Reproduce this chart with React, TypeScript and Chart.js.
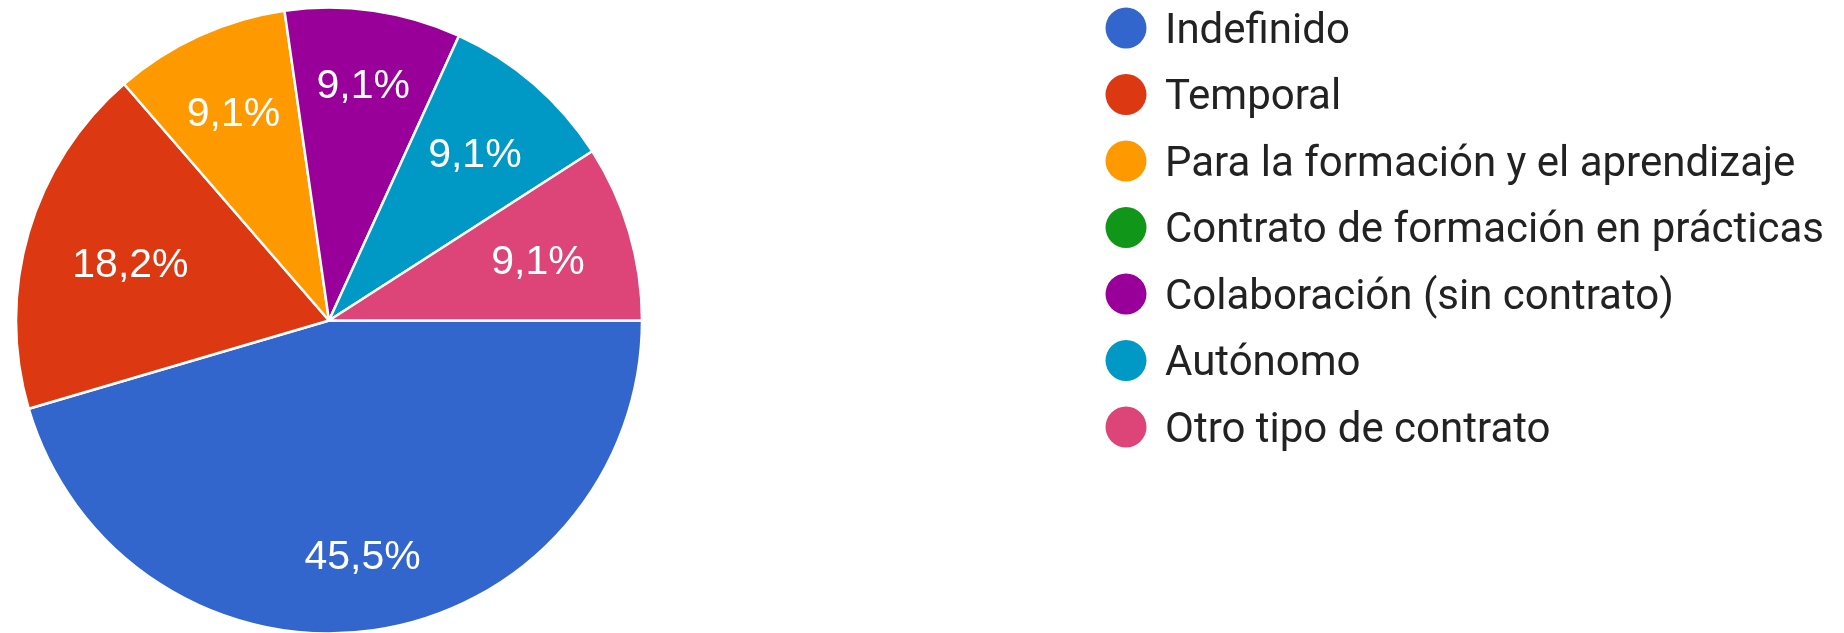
import React, { useEffect, useRef } from "react";
import { Chart, registerables } from "chart.js";

Chart.register(...registerables);

const categories = [
  "Indefinido",
  "Temporal",
  "Para la formación y el aprendizaje",
  "Contrato de formación en prácticas",
  "Colaboración (sin contrato)",
  "Autónomo",
  "Otro tipo de contrato",
];
const counts = [5, 2, 1, 0, 1, 1, 1];
const colors = ["#3366cc", "#dc3912", "#ff9900", "#109618", "#990099", "#0099c6", "#dd4477"];

const W = 1844;
const H = 633;

const sliceLabelPlugin = {
  id: "sliceLabels",
  afterDatasetsDraw(chart: any) {
    const ctx = chart.ctx;
    const meta = chart.getDatasetMeta(0);
    const data = chart.data.datasets[0].data as number[];
    const total = data.reduce((a, b) => a + b, 0);
    const fs = 41;
    ctx.save();
    ctx.font = `${fs}px "Liberation Sans", Arial, sans-serif`;
    ctx.fillStyle = "#ffffff";
    ctx.textAlign = "center";
    ctx.textBaseline = "alphabetic";
    meta.data.forEach((arc: any, i: number) => {
      const v = data[i];
      if (!v) return;
      const { x, y, startAngle, endAngle, outerRadius } = arc.getProps(
        ["x", "y", "startAngle", "endAngle", "outerRadius"],
        true
      );
      const label = ((v / total) * 100).toFixed(1).replace(".", ",") + "%";
      const mid = (startAngle + endAngle) / 2;
      const ux = Math.cos(mid);
      const uy = Math.sin(mid);
      const w = ctx.measureText(label).width;
      const h = fs * 0.85;
      const cx = Math.sign(ux) * (w / 2);
      const cy = Math.sign(uy) * (h / 2);
      const Rp = outerRadius * 0.855;
      const uc = ux * cx + uy * cy;
      const d = -uc + Math.sqrt(Math.max(uc * uc - (cx * cx + cy * cy) + Rp * Rp, 0));
      const px = x + d * ux;
      const py = y + d * uy;
      ctx.fillText(label, px, py + (fs * 0.716) / 2);
    });
    ctx.restore();
  },
};

const legendPlugin = {
  id: "customLegend",
  afterDraw(chart: any) {
    const ctx = chart.ctx;
    const labels = chart.data.labels as string[];
    const bg = chart.data.datasets[0].backgroundColor as string[];
    const x0 = 1126;
    const y0 = 28;
    const step = 66.5;
    const r = 20.5;
    const tx = 1165;
    const fs = 42;
    ctx.save();
    ctx.font = `${fs}px Roboto, Arial, sans-serif`;
    ctx.textAlign = "left";
    ctx.textBaseline = "alphabetic";
    labels.forEach((lab, i) => {
      const cy = y0 + i * step;
      ctx.beginPath();
      ctx.arc(x0, cy, r, 0, Math.PI * 2);
      ctx.fillStyle = bg[i];
      ctx.fill();
      ctx.fillStyle = "#222222";
      ctx.fillText(lab, tx, cy + (fs * 0.711) / 2);
    });
    ctx.restore();
  },
};

export default function App() {
  const ref = useRef<HTMLCanvasElement | null>(null);

  useEffect(() => {
    document.body.style.margin = "0";
    const canvas = ref.current;
    if (!canvas) return;
    const chart = new Chart(canvas, {
      type: "pie",
      data: {
        labels: categories,
        datasets: [
          {
            data: counts,
            backgroundColor: colors,
            borderColor: "#ffffff",
            borderWidth: 2.5,
            radius: 313,
            clip: false,
          } as any,
        ],
      },
      options: {
        animation: false,
        responsive: false,
        devicePixelRatio: 1,
        rotation: 90,
        layout: { padding: { left: 0, right: W - 658, top: 8, bottom: 0 } },
        plugins: {
          legend: { display: false },
          tooltip: { enabled: false },
        },
      } as any,
      plugins: [sliceLabelPlugin, legendPlugin],
    });
    return () => chart.destroy();
  }, []);

  return (
    <div style={{ position: "absolute", left: 0, top: 0, width: W, height: H, background: "#ffffff" }}>
      <canvas ref={ref} width={W} height={H} style={{ width: W, height: H, display: "block" }} />
    </div>
  );
}
